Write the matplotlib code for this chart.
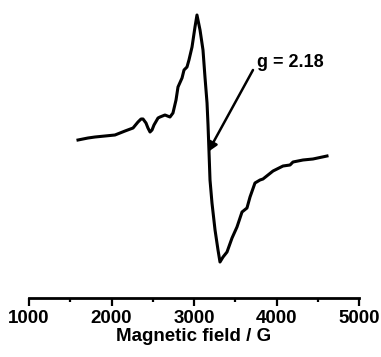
import matplotlib
matplotlib.use('Agg')
import matplotlib.pyplot as plt
from matplotlib.ticker import MultipleLocator

# EPR spectrum (field in G, signal in arbitrary units)
field = [1594, 1715, 1800, 1921, 2042, 2164, 2261, 2321, 2358, 2382,
         2418, 2442, 2467, 2491, 2515, 2564, 2588, 2648, 2709, 2745,
         2782, 2806, 2855, 2879, 2915, 2939, 2976, 3012, 3036, 3073,
         3109, 3133, 3158, 3170, 3182, 3194, 3218, 3255, 3291, 3315,
         3352, 3400, 3461, 3521, 3582, 3642, 3679, 3739, 3800, 3836,
         3958, 4079, 4164, 4200, 4321, 4442, 4612]
signal = [0, 2, 3, 4, 5, 9, 12, 18, 21, 21,
          17, 12, 8, 10, 15, 22, 23, 25, 23, 27,
          40, 53, 62, 70, 73, 80, 93, 113, 125, 110,
          90, 63, 37, 15, -12, -40, -63, -90, -110, -122,
          -117, -112, -98, -87, -72, -68, -57, -43, -40, -39,
          -31, -26, -25, -22, -20, -19, -16]

annotation = 'g = 2.18'
arrow_tip = (3170, -12)
arrow_tail = (3715, 70)
label_pos = (3764, 73)

plt.rcParams['font.family'] = ['Liberation Sans', 'DejaVu Sans']
plt.rcParams['font.weight'] = 'bold'

fig = plt.figure(figsize=(3.81, 3.57), dpi=100)
ax = fig.add_axes([29 / 381, 59 / 357, 330 / 381, 288 / 357])

ax.plot(field, signal, color='black', lw=2.2, solid_joinstyle='round')

ax.annotate('', xy=arrow_tip, xytext=arrow_tail,
            arrowprops=dict(arrowstyle='-|>', color='black', lw=1.8,
                            mutation_scale=14, shrinkA=0, shrinkB=0))
ax.text(label_pos[0], label_pos[1], annotation, fontsize=13, fontweight='bold',
        ha='left', va='baseline')

ax.set_xlim(1000, 5000)
ax.set_ylim(-158, 130)
ax.xaxis.set_major_locator(MultipleLocator(1000))
ax.xaxis.set_minor_locator(MultipleLocator(500))
ax.set_yticks([])
for side in ['left', 'right', 'top']:
    ax.spines[side].set_visible(False)
ax.spines['bottom'].set_linewidth(2)
ax.tick_params(axis='x', which='major', length=6, width=1.6, labelsize=13.5, pad=2.5)
ax.tick_params(axis='x', which='minor', length=3, width=1.6)
for lab in ax.get_xticklabels():
    lab.set_fontweight('bold')
ax.set_xlabel('Magnetic field / G', fontsize=13.5, fontweight='bold', labelpad=1)

fig.savefig('out.png', dpi=100)
